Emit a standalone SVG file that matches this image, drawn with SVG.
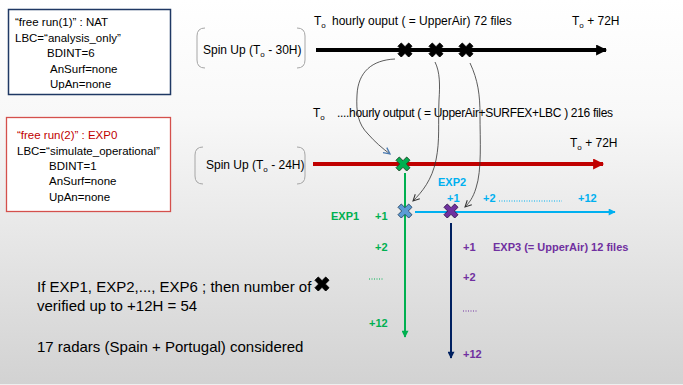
<svg xmlns="http://www.w3.org/2000/svg" width="683" height="385" viewBox="0 0 683 385">
<defs>
<linearGradient id="bg" x1="0" y1="0" x2="0" y2="1">
<stop offset="0" stop-color="#ffffff"/>
<stop offset="0.3" stop-color="#f8f8f8"/>
<stop offset="1" stop-color="#d2d2d2"/>
</linearGradient>
<path id="x" d="M-7,-3.7 L-3.7,-7 L0,-3.3 L3.7,-7 L7,-3.7 L3.3,0 L7,3.7 L3.7,7 L0,3.3 L-3.7,7 L-7,3.7 L-3.3,0 Z"/>
<marker id="ab" viewBox="0 0 10 10" refX="9" refY="5" markerWidth="12" markerHeight="11" markerUnits="userSpaceOnUse" orient="auto"><path d="M0,0 L10,5 L0,10 Z" fill="#000"/></marker>
<marker id="ar" viewBox="0 0 10 10" refX="9" refY="5" markerWidth="12" markerHeight="11" markerUnits="userSpaceOnUse" orient="auto"><path d="M0,0 L10,5 L0,10 Z" fill="#c00000"/></marker>
<marker id="alb" viewBox="0 0 10 10" refX="9" refY="5" markerWidth="8" markerHeight="7" markerUnits="userSpaceOnUse" orient="auto"><path d="M0,0 L10,5 L0,10 Z" fill="#00b0f0"/></marker>
<marker id="ag" viewBox="0 0 10 10" refX="9" refY="5" markerWidth="8" markerHeight="7" markerUnits="userSpaceOnUse" orient="auto"><path d="M0,0 L10,5 L0,10 Z" fill="#00b050"/></marker>
<marker id="an" viewBox="0 0 10 10" refX="9" refY="5" markerWidth="8" markerHeight="7" markerUnits="userSpaceOnUse" orient="auto"><path d="M0,0 L10,5 L0,10 Z" fill="#002060"/></marker>
<marker id="ac" viewBox="0 0 10 10" refX="9" refY="5" markerWidth="8" markerHeight="8" markerUnits="userSpaceOnUse" orient="auto"><path d="M1,1 L9,5 L1,9" fill="none" stroke="#333" stroke-width="1.3"/></marker>
<marker id="acb" viewBox="0 0 10 10" refX="9" refY="5" markerWidth="8" markerHeight="8" markerUnits="userSpaceOnUse" orient="auto"><path d="M1,1 L9,5 L1,9" fill="none" stroke="#4a7ab0" stroke-width="1.6"/></marker>
</defs>
<style>
text{font-family:"Liberation Sans",Arial,sans-serif;}
.box{font-size:11.5px;fill:#000;}
.t12{font-size:12px;fill:#000;}
.sub{font-size:8px;}
.lbl{font-size:11px;font-weight:bold;}
.big{font-size:15px;fill:#000;}
.brk{fill:none;stroke:#a6a6a6;stroke-width:1;}
.curve{fill:none;stroke:#333;stroke-width:0.8;}
.g{fill:#00b050;} .lb{fill:#00b0f0;} .p{fill:#7030a0;}
.bx{fill:#000;stroke:#000;stroke-width:1;stroke-linejoin:round;}
</style>
<rect x="0" y="0" width="683" height="385" fill="url(#bg)"/>
<line x1="0" y1="384.5" x2="683" y2="384.5" stroke="#efefef" stroke-width="1"/>

<g id="box1">
<rect x="8.5" y="9.5" width="162" height="85" fill="#fff" stroke="#1f3864" stroke-width="1.5"/>
<text class="box" x="15" y="26">“free run(1)” : NAT</text>
<text class="box" x="15" y="42">LBC=“analysis_only”</text>
<text class="box" x="47" y="57">BDINT=6</text>
<text class="box" x="50" y="73">AnSurf=none</text>
<text class="box" x="50" y="88">UpAn=none</text>
</g>

<g id="box2">
<rect x="6.5" y="117.5" width="164" height="94" fill="#fff" stroke="#d4504c" stroke-width="1.3"/>
<text class="box" x="17" y="139" style="fill:#c00000">“free run(2)” : EXP0</text>
<text class="box" x="17" y="155">LBC=“simulate_operational”</text>
<text class="box" x="49" y="170">BDINT=1</text>
<text class="box" x="49" y="185">AnSurf=none</text>
<text class="box" x="49" y="201">UpAn=none</text>
</g>

<g id="spinup1">
<path class="brk" d="M205,28 Q197,28 197,36 L197,60 Q197,68 205,68"/>
<path class="brk" d="M297,28 Q305,28 305,36 L305,60 Q305,68 297,68"/>
<text class="t12" x="203" y="54">Spin Up (T<tspan class="sub" dy="3">o</tspan><tspan dy="-3"> - 30H)</tspan></text>
</g>

<g id="spinup2">
<path class="brk" d="M203,147 Q195,147 195,155 L195,176 Q195,184 203,184"/>
<path class="brk" d="M297,147 Q305,147 305,155 L305,176 Q305,184 297,184"/>
<text class="t12" x="206" y="169">Spin Up (T<tspan class="sub" dy="3">o</tspan><tspan dy="-3"> - 24H)</tspan></text>
</g>

<g id="labels-top">
<text class="t12" x="314" y="25">T<tspan class="sub" dy="3">o</tspan></text>
<text class="t12" x="332" y="25">hourly ouput ( = UpperAir)  72 files</text>
<text class="t12" x="572" y="25">T<tspan class="sub" dy="3">o</tspan><tspan dy="-3"> + 72H</tspan></text>
<text class="t12" x="313" y="117">T<tspan class="sub" dy="3">o</tspan></text>
<text class="t12" x="337" y="117" textLength="276" lengthAdjust="spacing">....hourly output ( = UpperAir+SURFEX+LBC ) 216 files</text>
<text class="t12" x="570" y="147">T<tspan class="sub" dy="3">o</tspan><tspan dy="-3"> + 72H</tspan></text>
</g>

<g id="connectors">
<line x1="316" y1="50" x2="606" y2="50" stroke="#000" stroke-width="4" marker-end="url(#ab)"/>
<line x1="313" y1="164" x2="603" y2="164" stroke="#c00000" stroke-width="4" marker-end="url(#ar)"/>
<line x1="405" y1="173" x2="405" y2="337" stroke="#00b050" stroke-width="2" marker-end="url(#ag)"/>
<line x1="415" y1="212" x2="615" y2="212" stroke="#00b0f0" stroke-width="2" marker-end="url(#alb)"/>
<line x1="451" y1="223" x2="451" y2="358" stroke="#002060" stroke-width="2" marker-end="url(#an)"/>
<path class="curve" d="M395,59 C372,60 358,72 357,95 C356,112 358,124 368,134 C375,142 382,148 390,154" marker-end="url(#acb)"/>
<path class="curve" d="M435,62 C440,72 440,85 439,100 C438,125 440,140 436,160 C432,180 422,192 413,201" marker-end="url(#ac)"/>
<path class="curve" d="M470,63 C478,80 480,95 480,115 C480,140 482,170 476,188 C473,198 469,203 465,207" marker-end="url(#ac)"/>
<line x1="499" y1="201" x2="562" y2="201" stroke="#00b0f0" stroke-width="1" stroke-dasharray="1,1.5"/>
<line x1="369" y1="279" x2="383" y2="279" stroke="#00b050" stroke-width="1" stroke-dasharray="1,1.5"/>
<line x1="463" y1="311" x2="478" y2="311" stroke="#7030a0" stroke-width="1" stroke-dasharray="1,1.5"/>
</g>

<g id="cross-top1"><use href="#x" x="405" y="50" class="bx"/></g>
<g id="cross-top2"><use href="#x" x="436" y="50" class="bx"/></g>
<g id="cross-top3"><use href="#x" x="466" y="50" class="bx"/></g>
<g id="cross-green"><use href="#x" x="403" y="164" fill="#00b050" stroke="#1e4d2b" stroke-width="1" stroke-linejoin="round"/></g>
<g id="cross-blue"><use href="#x" x="405" y="211" fill="#5b9bd5" stroke="#2f4f6f" stroke-width="1" stroke-linejoin="round"/></g>
<g id="cross-purple"><use href="#x" x="451" y="211" fill="#7030a0" stroke="#3a1a55" stroke-width="1" stroke-linejoin="round"/></g>

<g id="exp-labels">
<text class="lbl lb" x="438" y="186">EXP2</text>
<text class="lbl lb" x="447" y="202">+1</text>
<text class="lbl lb" x="483" y="202">+2</text>
<text class="lbl lb" x="578" y="202">+12</text>
<text class="lbl g" x="331" y="220">EXP1</text>
<text class="lbl g" x="375" y="220">+1</text>
<text class="lbl g" x="375" y="251">+2</text>
<text class="lbl g" x="369" y="327">+12</text>
<text class="lbl p" x="463" y="251">+1</text>
<text class="lbl p" x="493" y="251">EXP3 (= UpperAir) 12 files</text>
<text class="lbl p" x="463" y="281">+2</text>
<text class="lbl p" x="463" y="358">+12</text>
</g>

<g id="notes">
<text class="big" x="37" y="292">If EXP1, EXP2,..., EXP6 ; then number of</text>
<use href="#x" x="322" y="284" class="bx"/>
<text class="big" x="37" y="311">verified up to +12H  = 54</text>
<text class="big" x="37" y="352">17 radars (Spain + Portugal) considered</text>
</g>
</svg>
